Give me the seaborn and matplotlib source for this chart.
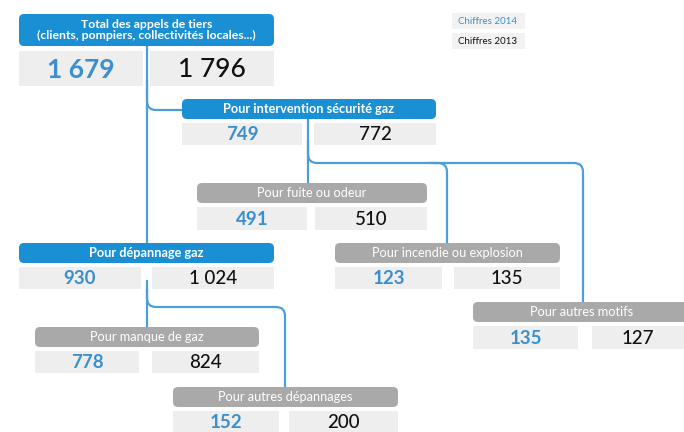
import matplotlib.pyplot as plt
import seaborn as sns
from matplotlib.patches import FancyBboxPatch, PathPatch
from matplotlib.path import Path

# data
categories = [
    "Total des appels de tiers\n(clients, pompiers, collectivités locales...)",
    "Pour intervention sécurité gaz",
    "Pour fuite ou odeur",
    "Pour dépannage gaz",
    "Pour incendie ou explosion",
    "Pour manque de gaz",
    "Pour autres dépannages",
    "Pour autres motifs",
]
values_2014 = [1679, 749, 491, 930, 123, 778, 152, 135]
values_2013 = [1796, 772, 510, 1024, 135, 824, 200, 127]
is_main = [True, True, False, True, False, False, False, False]
legend_labels = ["Chiffres 2014", "Chiffres 2013"]

# layout (pixels): x0, x1, header top, header bottom, cell top, cell bottom, left cell end, right cell start
layout = [
    (19, 274, 14, 46, 51, 86, 143, 150),
    (182, 436, 99, 119, 123, 145, 302, 314),
    (197, 427, 183, 203, 207, 230, 307, 315),
    (19, 274, 243, 263, 267, 289, 141, 152),
    (335, 560, 243, 263, 267, 289, 442, 454),
    (35, 259, 327, 347, 351, 373, 139, 152),
    (173, 398, 387, 407, 411, 432, 279, 289),
    (473, 690, 302, 322, 326, 349, 578, 592),
]
connectors = [
    [(147, 46), (147, 243)],
    [(147, 80), (147, 110), (182, 110)],
    [(147, 289), (147, 327)],
    [(147, 280), (147, 307), (285, 307), (285, 387)],
    [(308, 119), (308, 183)],
    [(308, 140), (308, 163), (447, 163), (447, 243)],
    [(430, 163), (583, 163), (583, 302)],
]

BLUE_HEAD = "#1a8fd3"
BLUE_TXT = "#3a8fcc"
LINE = "#4d9ed8"
GRAY_HEAD = "#a9a9a9"
CELL = "#eeeeee"

sns.set_theme(style="white")
plt.rcParams["font.family"] = ["Lato", "DejaVu Sans"]

fig = plt.figure(figsize=(6.84, 4.32), dpi=100)
ax = fig.add_axes([0, 0, 1, 1])
ax.set_xlim(0, 684)
ax.set_ylim(432, 0)
ax.axis("off")


def rounded(points, r=9):
    verts = [points[0]]
    codes = [Path.MOVETO]
    for i in range(1, len(points) - 1):
        px, py = points[i]
        ax_, ay = points[i - 1]
        bx, by = points[i + 1]
        d1 = ((px - ax_) ** 2 + (py - ay) ** 2) ** 0.5
        d2 = ((bx - px) ** 2 + (by - py) ** 2) ** 0.5
        a = (px - r * (px - ax_) / d1, py - r * (py - ay) / d1)
        b = (px + r * (bx - px) / d2, py + r * (by - py) / d2)
        verts += [a, (px, py), b]
        codes += [Path.LINETO, Path.CURVE3, Path.CURVE3]
    verts.append(points[-1])
    codes.append(Path.LINETO)
    return Path(verts, codes)


for pts in connectors:
    ax.add_patch(PathPatch(rounded(pts), fill=False, edgecolor=LINE, lw=1.6, zorder=1))


def fmt(v):
    return f"{v:,}".replace(",", " ")


for cat, v14, v13, main, (x0, x1, h0, h1, c0, c1, le, rs) in zip(
        categories, values_2014, values_2013, is_main, layout):
    head = BLUE_HEAD if main else GRAY_HEAD
    ax.add_patch(FancyBboxPatch((x0, h0), x1 - x0, h1 - h0,
                                boxstyle="round,pad=0,rounding_size=5",
                                fc=head, ec="none", zorder=2))
    ax.text((x0 + x1) / 2, (h0 + h1) / 2, cat, color="white",
            fontsize=9.2 if h1 - h0 < 25 else 8.8,
            fontweight="bold" if main else "normal",
            ha="center", va="center", linespacing=1.0, zorder=3)
    ax.add_patch(plt.Rectangle((x0, c0), le - x0, c1 - c0, fc=CELL, ec="none", zorder=2))
    ax.add_patch(plt.Rectangle((rs, c0), x1 - rs, c1 - c0, fc=CELL, ec="none", zorder=2))
    big = 19 if h1 - h0 > 25 else 13.5
    ax.text((x0 + le) / 2, (c0 + c1) / 2 + 1, fmt(v14), color=BLUE_TXT,
            fontsize=big, fontweight="bold", ha="center", va="center", zorder=3)
    ax.text((rs + min(x1, 684)) / 2, (c0 + c1) / 2 + 1, fmt(v13), color="#111111",
            fontsize=big, fontweight="medium", ha="center", va="center", zorder=3)

# legend
for lab, col, y in zip(legend_labels, [BLUE_TXT, "#111111"], [13, 33]):
    ax.add_patch(plt.Rectangle((452, y), 73, 16, fc="#f2f2f2", ec="none"))
    ax.text(488, y + 8, lab, color=col, fontsize=7, ha="center", va="center")

fig.savefig("out.png", dpi=100)
